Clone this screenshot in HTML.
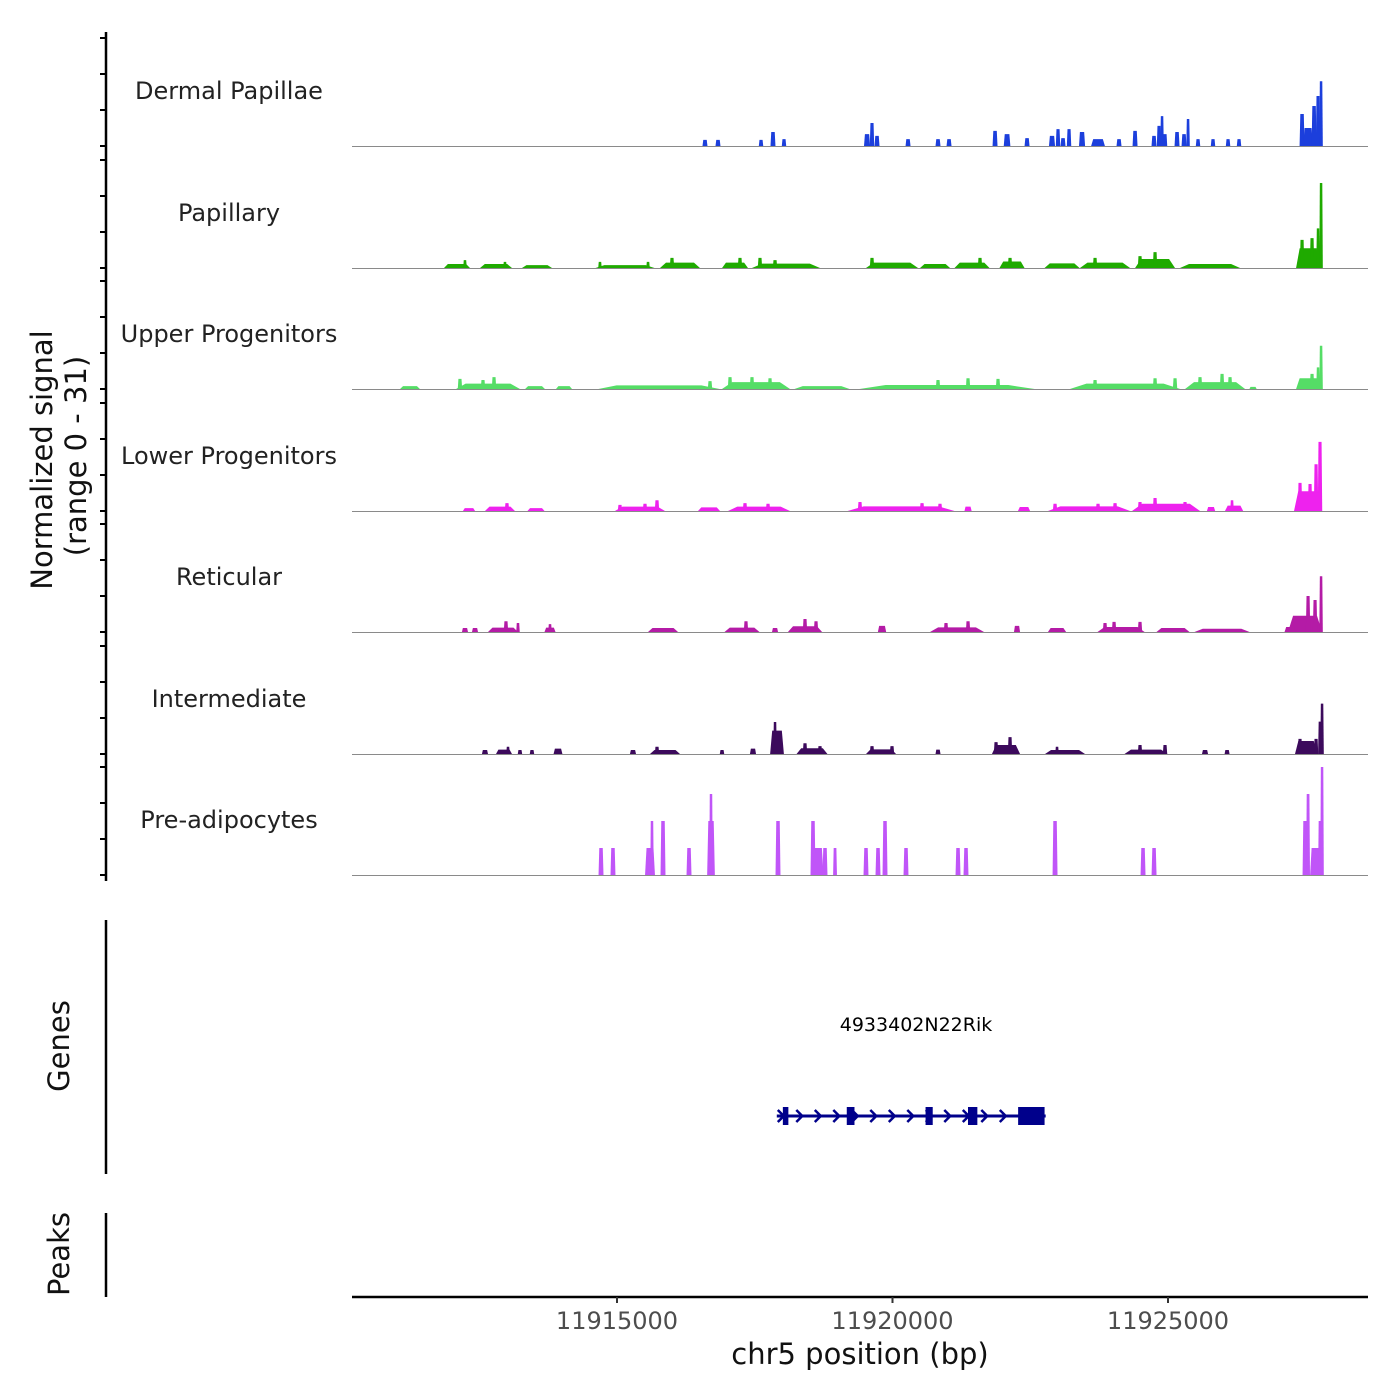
<!DOCTYPE html>
<html><head><meta charset="utf-8"><style>
html,body{margin:0;padding:0;background:#fff}
svg{display:block}
text{font-family:"DejaVu Sans","Liberation Sans",sans-serif}
</style></head><body>
<svg id="chart" width="1400" height="1400" viewBox="0 0 1400 1400" xmlns="http://www.w3.org/2000/svg">
<g id="tracks"></g>
<g id="leftaxis"></g>
<text transform="translate(52,460) rotate(-90)" text-anchor="middle" font-size="29" fill="#111">Normalized signal</text>
<text transform="translate(86,456) rotate(-90)" text-anchor="middle" font-size="29" fill="#111">(range 0 - 31)</text>
<line x1="106" y1="920" x2="106" y2="1174" stroke="#000" stroke-width="2.5"/>
<text transform="translate(69,1046) rotate(-90)" text-anchor="middle" font-size="29" fill="#111">Genes</text>
<line x1="106" y1="1213" x2="106" y2="1297" stroke="#000" stroke-width="2.5"/>
<text transform="translate(69,1254) rotate(-90)" text-anchor="middle" font-size="29" fill="#111">Peaks</text>
<g id="gene"></g>
<g id="xaxis"></g>
<text x="860" y="1364" text-anchor="middle" font-size="29" fill="#111">chr5 position (bp)</text>
</svg>
<script>
// ---- data: [centerBp, widthBp, value] ----
const trackNames = ["Dermal Papillae","Papillary","Upper Progenitors","Lower Progenitors","Reticular","Intermediate","Pre-adipocytes"];
const trackColors = ["#1c3fdc","#1faa00","#55dd66","#ee22ee","#b41ba6","#3c0a5c","#c055f8"];
const dermalPapillae = [[11916597,90,1.7],[11916833,90,1.7],[11917614,80,1.7],[11917831,90,3.9],[11918031,80,1.9],[11919538,110,3.3],[11919628,80,6.4],[11919719,90,2.8],[11920282,90,1.9],[11920826,90,1.9],[11921026,90,1.9],[11921861,90,4.2],[11922079,120,3.3],[11922442,90,2.2],[11922895,110,2.8],[11923004,80,4.7],[11923095,90,2.2],[11923204,80,4.7],[11923440,110,3.9],[11923730,250,1.9],[11924111,90,1.9],[11924402,90,4.2],[11924746,90,2.8],[11924837,80,5.6],[11924892,60,8.3],[11924946,80,3.3],[11925164,90,3.9],[11925291,90,3.3],[11925364,60,7.5],[11925545,80,1.9],[11925817,80,1.9],[11926090,80,1.9],[11926289,80,1.9],[11927433,90,8.9],[11927542,180,5],[11927651,90,11.1],[11927723,80,13.9],[11927778,60,18]];
const papillary = [[11912096,472,1.1],[11912241,60,2.2],[11912804,580,1.1],[11912967,60,1.7],[11913548,545,0.8],[11915145,1070,0.8],[11914691,60,1.7],[11915563,60,1.7],[11916143,725,1.5],[11915998,80,2.8],[11917142,470,1.5],[11917232,80,2.8],[11918067,1235,1.2],[11917595,80,2.8],[11917868,80,2.2],[11919991,945,1.5],[11919628,80,2.8],[11920772,545,1.1],[11921443,635,1.5],[11921588,80,2.8],[11922169,455,1.8],[11922133,80,2.8],[11923077,635,1.3],[11923857,910,1.5],[11923676,80,2.8],[11924765,725,2.5],[11924492,80,3.3],[11924765,80,4.4],[11925763,1090,1.1],[11927542,435,5.5],[11927433,80,7.8],[11927614,80,8.3],[11927723,60,11],[11927778,50,23.6]];
const upperProgenitors = [[11911243,360,0.8],[11912659,1160,1.5],[11912150,80,2.8],[11912568,80,2.5],[11912768,80,3.3],[11913512,360,0.8],[11914038,290,0.8],[11915762,2200,1.0],[11916688,80,2.2],[11917523,1235,1.9],[11917051,80,3.3],[11917450,80,3.3],[11917777,80,3.0],[11918721,1000,0.8],[11920990,3180,1.1],[11920826,80,2.5],[11921371,80,3.0],[11921915,80,2.8],[11924220,2000,1.5],[11923676,80,2.5],[11924765,80,3.0],[11925128,80,3.0],[11925854,1090,1.9],[11925581,80,3.3],[11925981,80,4.2],[11926126,80,3.3],[11926543,130,0.6],[11927542,435,3.0],[11927614,80,4.2],[11927723,60,6],[11927778,50,12]];
const lowerProgenitors = [[11912314,220,0.8],[11912876,545,1.2],[11913003,80,2.2],[11913530,310,0.8],[11915417,910,1.2],[11915054,80,1.7],[11915726,80,3.0],[11915508,80,2.0],[11916670,400,1.0],[11917577,1125,1.2],[11917323,80,2.2],[11917741,80,2.0],[11920155,1940,1.3],[11919410,80,2.5],[11920536,80,2.2],[11920862,80,2.0],[11921371,130,1.2],[11922387,220,1.1],[11923567,1490,1.3],[11922950,80,2.0],[11923730,80,2.0],[11924039,80,2.2],[11924964,1235,2.0],[11924765,80,3.6],[11924492,80,2.5],[11925309,80,2.5],[11925781,150,1.1],[11926199,330,1.5],[11926162,60,3.0],[11927542,510,5.5],[11927396,80,7.8],[11927578,80,7.5],[11927687,80,13],[11927759,80,19.2]];
const reticular = [[11912241,110,1.1],[11912423,110,1.1],[11912931,545,1.2],[11912985,80,3.0],[11913203,60,2.5],[11913784,200,1.2],[11913784,60,2.2],[11915835,545,1.1],[11917269,635,1.2],[11917341,80,3.0],[11917868,110,1.1],[11918412,620,1.6],[11918412,80,3.6],[11918612,80,3.0],[11919810,150,1.7],[11921171,980,1.3],[11920971,80,2.5],[11921371,80,3.0],[11922260,110,1.7],[11922986,330,1.1],[11924148,855,1.4],[11923857,80,2.5],[11924021,80,2.8],[11924492,80,2.8],[11925091,600,1.1],[11925981,1000,0.9],[11927487,620,4.5],[11927215,200,1.4],[11927542,80,10],[11927669,80,8.9],[11927778,60,15.5]];
const intermediate = [[11912604,110,1.1],[11912949,290,1.2],[11913022,60,2.0],[11913239,80,1.1],[11913457,80,1.1],[11913929,160,1.5],[11915290,110,1.1],[11915871,545,1.1],[11915726,80,2.0],[11916906,80,1.1],[11917468,110,1.5],[11917904,250,6.5],[11917868,60,8.9],[11918539,560,1.6],[11918412,80,3.0],[11918684,80,2.2],[11919792,545,1.3],[11919628,80,2.2],[11919991,80,2.2],[11920826,90,1.2],[11922060,510,2.5],[11921879,80,3.3],[11922133,80,4.7],[11923131,725,1.1],[11922986,60,2.0],[11924601,780,1.2],[11924492,80,2.5],[11924946,80,2.5],[11925672,110,1.1],[11926072,90,1.1],[11927505,400,3.6],[11927396,80,4.2],[11927687,80,4.2],[11927759,70,9],[11927796,50,14]];
const preAdipocytes = [[11914710,90,7.5],[11914927,90,7.5],[11915599,180,7.5],[11915635,40,15],[11915835,90,15],[11916307,90,7.5],[11916706,140,15],[11916706,40,22.5],[11917922,90,15],[11918557,90,15],[11918648,200,7.5],[11918775,90,7.5],[11918957,70,7.5],[11919519,90,7.5],[11919737,90,7.5],[11919864,90,15],[11920245,90,7.5],[11921189,90,7.5],[11921334,90,7.5],[11922950,90,15],[11924547,90,7.5],[11924747,90,7.5],[11927487,90,15],[11927542,70,22.5],[11927669,180,7.5],[11927759,70,15],[11927796,40,30]];
const xTicks = [11915000,11920000,11925000];
const xTickLabels = ["11915000","11920000","11925000"];
const geneName = "4933402N22Rik";
const geneStart = 11917900, geneEnd = 11922780;
const exons = [[11918010,11918110],[11919170,11919310],[11920600,11920730],[11921370,11921540],[11922280,11922760]];

const trackData = [dermalPapillae,papillary,upperProgenitors,lowerProgenitors,reticular,intermediate,preAdipocytes];
const NS="http://www.w3.org/2000/svg";
const X0=352, X1=1368;
function xScale(bp){return 617+(bp-11915000)*275.5/5000;}
const baselines=[146,268,389,511,632,754,875];
const PXU=3.6;
function yScale(i,v){return baselines[i]-v*PXU;}
function mk(tag,attrs,parent){const e=document.createElementNS(NS,tag);for(const k in attrs)e.setAttribute(k,attrs[k]);parent.appendChild(e);return e;}

const tg=document.getElementById('tracks');
trackData.forEach((arr,i)=>{
  const g=mk('g',{},tg);
  
  
  const lab=mk('text',{x:229,y:baselines[i]-47,'text-anchor':'middle','font-size':24,fill:'#222'},g);
  lab.textContent=trackNames[i];
  
  
  arr.forEach(p=>{
    const c=xScale(p[0]), w=Math.max(p[1]*275.5/5000,3.5), b=baselines[i], t=yScale(i,p[2]);
    const tw=w*0.7;
    const poly=mk('polygon',{points:`${c-w/2},${b} ${c-tw/2},${t} ${c+tw/2},${t} ${c+w/2},${b}`,fill:trackColors[i]},g);
    
    
  });
  const bl=mk('line',{x1:X0,y1:baselines[i]+0.5,x2:X1,y2:baselines[i]+0.5,stroke:'#8a8a8a','stroke-width':1},g);
  
  
});

const la=document.getElementById('leftaxis');
const al=mk('line',{x1:106,y1:32,x2:106,y2:881,stroke:'#000','stroke-width':2.5},la);


baselines.forEach(b=>{
  [0,36,72,108].forEach(d=>{
    const y=b-d; if(y<34)return;
    const tk=mk('line',{x1:100,y1:y,x2:106,y2:y,stroke:'#000','stroke-width':2},la);
    
    
  });
});

const gg=document.getElementById('gene');
const gl=mk('text',{x:916,y:1031,'text-anchor':'middle','font-size':19,fill:'#000'},gg);
gl.textContent=geneName;


const gx0=xScale(geneStart), gx1=xScale(geneEnd), gy=1116;
const gline=mk('line',{x1:gx0,y1:gy,x2:gx1,y2:gy,stroke:'#00008b','stroke-width':3},gg);


for(let x=gx0+4;x<gx1-30;x+=18.5){
  const ch=mk('polyline',{points:`${x-3},${gy-6} ${x+3},${gy} ${x-3},${gy+6}`,fill:'none',stroke:'#00008b','stroke-width':2.5},gg);
  
  
}
exons.forEach(e=>{
  const r=mk('rect',{x:xScale(e[0]),y:gy-9,width:xScale(e[1])-xScale(e[0]),height:18,fill:'#00008b'},gg);
  
  
});

const xa=document.getElementById('xaxis');
const xl=mk('line',{x1:X0,y1:1297,x2:X1,y2:1297,stroke:'#000','stroke-width':2.5},xa);


xTicks.forEach((t,i)=>{
  const x=xScale(t);
  const tk=mk('line',{x1:x,y1:1297,x2:x,y2:1303,stroke:'#333','stroke-width':2},xa);
  
  
  const tl=mk('text',{x:x,y:1329,'text-anchor':'middle','font-size':24,fill:'#4d4d4d'},xa);
  tl.textContent=xTickLabels[i];
  
  
});
</script>
</body></html>
